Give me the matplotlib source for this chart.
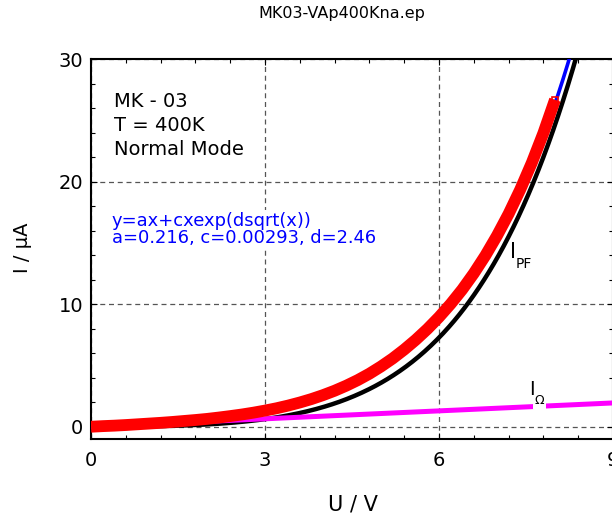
import numpy as np
import matplotlib
matplotlib.use("Agg")
import matplotlib.pyplot as plt
from matplotlib.ticker import MultipleLocator

# ---- data ----
title = "MK03-VAp400Kna.ep"
x_label = "U / V"
y_label = "I / \u03bcA"
info_lines = ["MK - 03", "T = 400K", "Normal Mode"]
fit_lines = ["y=ax+cxexp(dsqrt(x))", "a=0.216, c=0.00293, d=2.46"]

# fit parameters shown on the chart
a_fit = 0.216
c_fit = 0.00293
d_fit = 2.46

u_meas = [0.0, 0.2, 0.4, 0.6, 0.8, 1.0, 1.2, 1.4, 1.6, 1.8,
          2.0, 2.2, 2.4, 2.6, 2.8, 3.0, 3.2, 3.4, 3.6, 3.8,
          4.0, 4.2, 4.4, 4.6, 4.8, 5.0, 5.2, 5.4, 5.6, 5.8,
          6.0, 6.2, 6.4, 6.6, 6.8, 7.0, 7.2, 7.4, 7.6, 7.8, 8.0]
i_meas = [0.00, 0.05, 0.09, 0.14, 0.20, 0.26, 0.32, 0.39, 0.47, 0.55,
          0.64, 0.75, 0.87, 1.00, 1.15, 1.32, 1.51, 1.73, 1.98, 2.26,
          2.58, 2.94, 3.35, 3.81, 4.33, 4.92, 5.57, 6.30, 7.10, 7.98,
          8.95, 10.02, 11.20, 12.52, 13.98, 15.60, 17.38, 19.36, 21.55, 23.98, 26.70]

u_fit_range = [0.0, 8.3]
u_pf_range = [0.0, 8.5]
u_ohm_range = [0.0, 9.0]

x_ticks = [0, 3, 6, 9]
y_ticks = [0, 10, 20, 30]

# ---- figure ----
W, H = 612, 515
fig = plt.figure(figsize=(W / 100, H / 100), dpi=100)
ax_l, ax_r, ax_t, ax_b = 91, 613, 59.3, 439
ax = fig.add_axes([ax_l / W, 1 - ax_b / H, (ax_r - ax_l) / W, (ax_b - ax_t) / H])

ax.set_xlim(0, 9)
ax.set_ylim(-1, 30)

u_fit = np.linspace(u_fit_range[0], u_fit_range[1], 400)
i_fit = a_fit * u_fit + c_fit * u_fit * np.exp(d_fit * np.sqrt(u_fit))
u_pf = np.linspace(u_pf_range[0], u_pf_range[1], 400)
i_pf = c_fit * u_pf * np.exp(d_fit * np.sqrt(u_pf))
u_ohm = np.array(u_ohm_range)
i_ohm = a_fit * u_ohm

ax.plot(u_pf, i_pf, color="black", lw=3.2, zorder=3, solid_capstyle="butt")
ax.plot(u_ohm, i_ohm, color="#ff00ff", lw=3.6, zorder=4, solid_capstyle="butt")
ax.plot(u_fit, i_fit, color="#0000ff", lw=2.6, zorder=5, solid_capstyle="round")
ax.plot(u_meas, i_meas, color="#ff0000", lw=8.5, zorder=6,
        solid_capstyle="butt", solid_joinstyle="round")
ax.plot(u_meas[-1:], i_meas[-1:], "s", mfc="none", mec="#ff0000", ms=5, mew=1.2, zorder=6)

# grid / ticks
ax.set_xticks(x_ticks)
ax.set_yticks(y_ticks)
ax.xaxis.set_minor_locator(MultipleLocator(0.6))
ax.yaxis.set_minor_locator(MultipleLocator(2))
ax.grid(True, which="major", color="#555555", lw=0.9, linestyle=(0, (4, 3)))
ax.set_axisbelow(True)
ax.tick_params(which="both", direction="in", top=True, right=True, width=0.8, colors="black")
ax.tick_params(which="major", length=4.3, labelsize=14)
ax.tick_params(which="minor", length=3.0)
ax.tick_params(axis="x", which="major", pad=8.5)
ax.tick_params(axis="y", which="major", pad=5.5)
for s in ax.spines.values():
    s.set_linewidth(1.5)

def fx(px):
    return (px - ax_l) / (ax_r - ax_l)

def fy(py):
    return (ax_b - py) / (ax_b - ax_t)

# annotation texts
for txt, base in zip(info_lines, [106.7, 130.7, 155.0]):
    ax.text(fx(114), fy(base), txt, transform=ax.transAxes, fontsize=14,
            ha="left", va="baseline", color="black", zorder=8)
# white backgrounds first, then the blue text on top of both
for txt, base in zip(fit_lines, [226.0, 242.7]):
    ax.text(fx(112), fy(base), txt, transform=ax.transAxes, fontsize=12.9,
            ha="left", va="baseline", color="none", zorder=7,
            bbox=dict(facecolor="white", edgecolor="none", pad=1.5))
    ax.text(fx(112), fy(base), txt, transform=ax.transAxes, fontsize=12.9,
            ha="left", va="baseline", color="#0000ff", zorder=8)

# curve labels
ax.text(fx(510), fy(258), "I", transform=ax.transAxes, fontsize=15,
        ha="left", va="baseline", color="black", zorder=9)
ax.text(fx(515.5), fy(267.7), "PF", transform=ax.transAxes, fontsize=10,
        ha="left", va="baseline", color="black", zorder=9)
ax.text(fx(534.5), fy(404), "\u03a9", transform=ax.transAxes, fontsize=9,
        ha="left", va="baseline", color="black", zorder=8,
        bbox=dict(facecolor="white", edgecolor="none", pad=1.2))
ax.text(fx(529.5), fy(395), "I", transform=ax.transAxes, fontsize=14,
        ha="left", va="baseline", color="black", zorder=9)

# title and axis labels
fig.text(342 / W, 1 - 18 / H, title, ha="center", va="baseline", fontsize=11.5)
fig.text(352.5 / W, 1 - 510 / H, x_label, ha="center", va="baseline", fontsize=15)
fig.text(28 / W, 1 - 248 / H, y_label, ha="center", va="baseline", fontsize=14,
         rotation=90, rotation_mode="anchor")

fig.savefig("out.png", dpi=100)
